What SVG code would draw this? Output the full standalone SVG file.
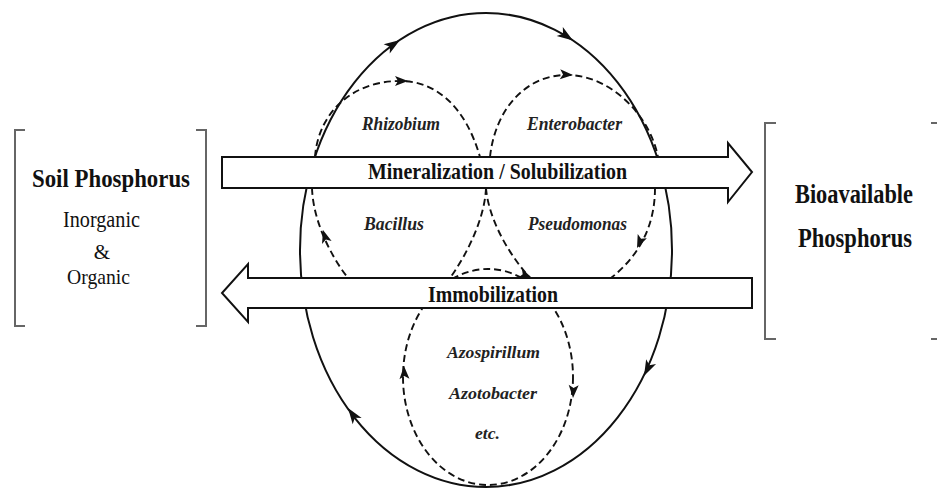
<svg xmlns="http://www.w3.org/2000/svg" xmlns:xlink="http://www.w3.org/1999/xlink" width="937" height="489" viewBox="0 0 937 489">
<style>
.bk{fill:none;stroke:#666;stroke-width:2}
.cyc{fill:none;stroke:#111;stroke-width:2}
.dash{fill:none;stroke:#111;stroke-width:1.9;stroke-dasharray:7 4}
.bar{fill:#fff;stroke:#111;stroke-width:2;stroke-linejoin:miter}
.t{font-family:"Liberation Serif","Times New Roman",serif;fill:#111}
.b{font-weight:bold}
.i{font-style:italic;font-weight:bold;fill:#222}
.ah{fill:#111}
</style>
<defs>
<path id="ah" d="M0,0 L-16,-5.5 L-12,0 L-16,5.5 Z"/>
<path id="ahs" d="M0,0 L-13,-5 L-10,0 L-13,5 Z"/>
</defs>
<rect width="937" height="489" fill="#fff"/>
<g id="connectors">
<g id="cycle">
<ellipse class="cyc" cx="486" cy="250" rx="186" ry="237"/>
<use xlink:href="#ah" class="ah" transform="translate(400,40) rotate(-33.6)"/>
<use xlink:href="#ah" class="ah" transform="translate(573,40.5) rotate(34)"/>
<use xlink:href="#ah" class="ah" transform="translate(644,376) rotate(116.3)"/>
<use xlink:href="#ah" class="ah" transform="translate(348,408) rotate(-125)"/>
</g>
<g id="loop-left">
<path class="dash" d="M315,157 C318,115 350,81 400,81 C435,81 465,105 480,157"/>
<path class="dash" d="M312,188 C313,220 330,255 348,278"/>
<path class="dash" d="M486,188 C485,215 470,250 450,278"/>
<use xlink:href="#ahs" class="ah" transform="translate(408,81) rotate(0)"/>
<use xlink:href="#ahs" class="ah" transform="translate(323,230) rotate(-107)"/>
</g>
<g id="loop-right">
<path class="dash" d="M490,157 C495,110 525,75 567,75 C610,75 650,115 658,157"/>
<path class="dash" d="M486,188 C488,215 505,250 530,278"/>
<path class="dash" d="M655,188 C655,225 640,255 611,278"/>
<use xlink:href="#ahs" class="ah" transform="translate(573,75) rotate(3)"/>
<use xlink:href="#ahs" class="ah" transform="translate(637,248) rotate(114)"/>
</g>
<g id="loop-bottom">
<ellipse class="dash" cx="488" cy="377" rx="85" ry="108"/>
<use xlink:href="#ahs" class="ah" transform="translate(404,366) rotate(-92)"/>
<use xlink:href="#ahs" class="ah" transform="translate(573,398) rotate(93)"/>
<use xlink:href="#ahs" class="ah" transform="translate(532,278) rotate(22)"/>
</g>
</g>
<g id="mineralization">
<polygon class="bar" points="222,157 728,157 728,143 752,172 728,202 728,188 222,188"/>
<text class="t b" x="368" y="179" font-size="23" textLength="259" lengthAdjust="spacingAndGlyphs">Mineralization / Solubilization</text>
</g>
<g id="immobilization">
<polygon class="bar" points="752,278 248,278 248,264 222,293 248,322 248,308 752,308"/>
<text class="t b" x="428" y="302" font-size="23" textLength="130" lengthAdjust="spacingAndGlyphs">Immobilization</text>
</g>
<g id="soil-phosphorus">
<path class="bk" d="M25,130 H15 V326 H25"/>
<path class="bk" d="M196,130 H206 V326 H196"/>
<text class="t b" x="32" y="187" font-size="26" textLength="158" lengthAdjust="spacingAndGlyphs">Soil Phosphorus</text>
<text class="t" x="63" y="227" font-size="23" textLength="77" lengthAdjust="spacingAndGlyphs">Inorganic</text>
<text class="t" x="102" y="259" font-size="21" text-anchor="middle">&amp;</text>
<text class="t" x="67" y="284" font-size="22" textLength="63" lengthAdjust="spacingAndGlyphs">Organic</text>
</g>
<g id="bioavailable-phosphorus">
<path class="bk" d="M776,123 H765 V339 H776"/>
<path class="bk" d="M931,123 H937 M931,339 H937"/>
<text class="t b" x="795" y="203" font-size="27" textLength="118" lengthAdjust="spacingAndGlyphs">Bioavailable</text>
<text class="t b" x="798" y="247" font-size="27" textLength="114" lengthAdjust="spacingAndGlyphs">Phosphorus</text>
</g>
<g id="microbes">
<text class="t i" x="362" y="130" font-size="18" textLength="78" lengthAdjust="spacingAndGlyphs">Rhizobium</text>
<text class="t i" x="527" y="130" font-size="18" textLength="95" lengthAdjust="spacingAndGlyphs">Enterobacter</text>
<text class="t i" x="364" y="230" font-size="18" textLength="60" lengthAdjust="spacingAndGlyphs">Bacillus</text>
<text class="t i" x="528" y="230" font-size="18" textLength="99" lengthAdjust="spacingAndGlyphs">Pseudomonas</text>
<text class="t i" x="447" y="358" font-size="17" textLength="93" lengthAdjust="spacingAndGlyphs">Azospirillum</text>
<text class="t i" x="449" y="399" font-size="17" textLength="88" lengthAdjust="spacingAndGlyphs">Azotobacter</text>
<text class="t i" x="475" y="439" font-size="17" textLength="25" lengthAdjust="spacingAndGlyphs">etc.</text>
</g>
</svg>
